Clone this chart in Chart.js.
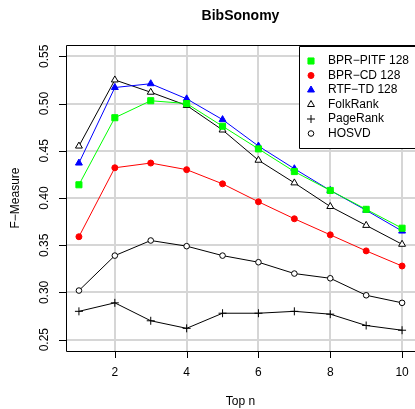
<!DOCTYPE html>
<html>
<head>
<meta charset="utf-8">
<script src="https://cdn.jsdelivr.net/npm/chart.js@4"></script>
<style>
  html, body { margin: 0; padding: 0; background: #fff; overflow: hidden; }
  canvas { display: block; }
</style>
</head>
<body>
<canvas id="chart" width="415" height="409"></canvas>
<script>
const topN = [1, 2, 3, 4, 5, 6, 7, 8, 9, 10];
const bprPitf = [0.414, 0.485, 0.503, 0.500, 0.476, 0.452, 0.428, 0.408, 0.388, 0.368];
const bprCd = [0.359, 0.432, 0.437, 0.430, 0.415, 0.396, 0.378, 0.361, 0.344, 0.328];
const rtfTd = [0.437, 0.517, 0.521, 0.505, 0.483, 0.455, 0.431, 0.408, 0.387, 0.365];
const folkRank = [0.455, 0.525, 0.512, 0.498, 0.472, 0.440, 0.416, 0.391, 0.371, 0.351];
const pageRank = [0.280, 0.289, 0.270, 0.262, 0.278, 0.278, 0.280, 0.277, 0.265, 0.260];
const hosvd = [0.302, 0.339, 0.355, 0.349, 0.339, 0.332, 0.320, 0.315, 0.297, 0.289];

const xTicks = [2, 4, 6, 8, 10];
const yTicks = [0.25, 0.30, 0.35, 0.40, 0.45, 0.50, 0.55];

const FONT = '"Liberation Sans", Arial, sans-serif';

function points(values) {
  return values.map((v, i) => ({ x: topN[i], y: v }));
}

function series(label, values, color, style, fill, radius) {
  return {
    label: label,
    data: points(values),
    borderColor: color,
    borderWidth: 1,
    pointStyle: style,
    pointRadius: radius,
    pointBackgroundColor: fill,
    pointBorderColor: color,
    pointBorderWidth: 1,
    fill: false,
    tension: 0
  };
}

const datasets = [
  series('BPR\u2212PITF 128', bprPitf, '#00ff00', 'rect', '#00ff00', 4.3),
  series('RTF\u2212TD 128', rtfTd, '#0000ff', 'triangle', '#0000ff', 4),
  series('BPR\u2212CD 128', bprCd, '#ff0000', 'circle', '#ff0000', 3),
  series('FolkRank', folkRank, '#000000', 'triangle', '#ffffff', 4),
  series('PageRank', pageRank, '#000000', 'cross', '#000000', 4),
  series('HOSVD', hosvd, '#000000', 'circle', '#ffffff', 2.8)
];

// legend entries in the order shown in the picture
const legendItems = [
  { label: 'BPR\u2212PITF 128', style: 'rect', color: '#00ff00', fill: '#00ff00', r: 4.3 },
  { label: 'BPR\u2212CD 128', style: 'circle', color: '#ff0000', fill: '#ff0000', r: 3 },
  { label: 'RTF\u2212TD 128', style: 'triangle', color: '#0000ff', fill: '#0000ff', r: 4 },
  { label: 'FolkRank', style: 'triangle', color: '#000000', fill: '#ffffff', r: 4 },
  { label: 'PageRank', style: 'cross', color: '#000000', fill: '#000000', r: 4 },
  { label: 'HOSVD', style: 'circle', color: '#000000', fill: '#ffffff', r: 2.8 }
];

const decor = {
  id: 'decor',
  afterDatasetsDraw(chart) {
    const ctx = chart.ctx;
    const a = chart.chartArea;
    const xs = chart.scales.x;
    const ys = chart.scales.y;
    ctx.save();

    // box: left, top and bottom only; the right edge falls outside the picture
    ctx.strokeStyle = '#000';
    ctx.lineWidth = 1;
    ctx.beginPath();
    ctx.moveTo(430, a.top + 0.5);
    ctx.lineTo(a.left + 0.5, a.top + 0.5);
    ctx.lineTo(a.left + 0.5, a.bottom + 0.5);
    ctx.lineTo(430, a.bottom + 0.5);
    ctx.stroke();

    // ticks and tick labels
    ctx.fillStyle = '#000';
    ctx.font = '12px ' + FONT;
    ctx.beginPath();
    xTicks.forEach(v => {
      const px = Math.round(xs.getPixelForValue(v)) + 0.5;
      ctx.moveTo(px, a.bottom);
      ctx.lineTo(px, a.bottom + 7);
    });
    yTicks.forEach(v => {
      const py = Math.round(ys.getPixelForValue(v)) + 0.5;
      ctx.moveTo(a.left, py);
      ctx.lineTo(a.left - 7, py);
    });
    ctx.stroke();

    ctx.textAlign = 'center';
    ctx.textBaseline = 'middle';
    xTicks.forEach(v => {
      ctx.fillText(String(v), xs.getPixelForValue(v), a.bottom + 22);
    });
    yTicks.forEach(v => {
      ctx.save();
      ctx.translate(a.left - 21, ys.getPixelForValue(v));
      ctx.rotate(-Math.PI / 2);
      ctx.fillText(v.toFixed(2), 0, 0);
      ctx.restore();
    });

    // axis titles and main title
    ctx.fillText('Top n', (a.left + a.right) / 2, 402);
    ctx.save();
    ctx.translate(16, (a.top + a.bottom) / 2);
    ctx.rotate(-Math.PI / 2);
    ctx.fillText('F\u2212Measure', 0, 0);
    ctx.restore();
    ctx.font = 'bold 14px ' + FONT;
    ctx.fillText('BibSonomy', (a.left + a.right) / 2, 16);

    // legend (white panel, open to the right)
    const lx = 299.5, ly = 46.5, lh = 102;
    ctx.fillStyle = '#fff';
    ctx.fillRect(lx, ly, 430 - lx, lh);
    ctx.strokeStyle = '#000';
    ctx.beginPath();
    ctx.moveTo(430, ly);
    ctx.lineTo(lx, ly);
    ctx.lineTo(lx, ly + lh);
    ctx.lineTo(430, ly + lh);
    ctx.stroke();
    ctx.font = '12px ' + FONT;
    ctx.textAlign = 'left';
    legendItems.forEach((it, i) => {
      const y = 61 + i * 14.5;
      ctx.fillStyle = it.fill;
      ctx.strokeStyle = it.color;
      ctx.lineWidth = 1;
      Chart.helpers.drawPoint(ctx, { pointStyle: it.style, radius: it.r, borderWidth: 1, rotation: 0 }, 311, y);
      ctx.fillStyle = '#000';
      ctx.fillText(it.label, 328, y);
    });

    ctx.restore();
  }
};

new Chart(document.getElementById('chart').getContext('2d'), {
  type: 'line',
  data: { datasets: datasets },
  options: {
    responsive: false,
    animation: false,
    layout: { autoPadding: false, padding: { top: 45, left: 0, right: 0, bottom: 0 } },
    plugins: {
      legend: { display: false },
      title: { display: false },
      tooltip: { enabled: false }
    },
    scales: {
      x: {
        type: 'linear',
        min: 0.64,
        max: 10.36,
        afterBuildTicks: s => { s.ticks = xTicks.map(v => ({ value: v })); },
        afterFit: s => { s.height = 58; },
        ticks: { display: false },
        border: { display: false },
        grid: { color: '#d6d6d6', lineWidth: 2, drawTicks: false }
      },
      y: {
        type: 'linear',
        min: 0.238,
        max: 0.562,
        afterBuildTicks: s => { s.ticks = yTicks.map(v => ({ value: v })); },
        afterFit: s => { s.width = 66; },
        ticks: { display: false },
        border: { display: false },
        grid: { color: '#d6d6d6', lineWidth: 2, drawTicks: false }
      }
    }
  },
  plugins: [decor]
});
</script>
</body>
</html>
